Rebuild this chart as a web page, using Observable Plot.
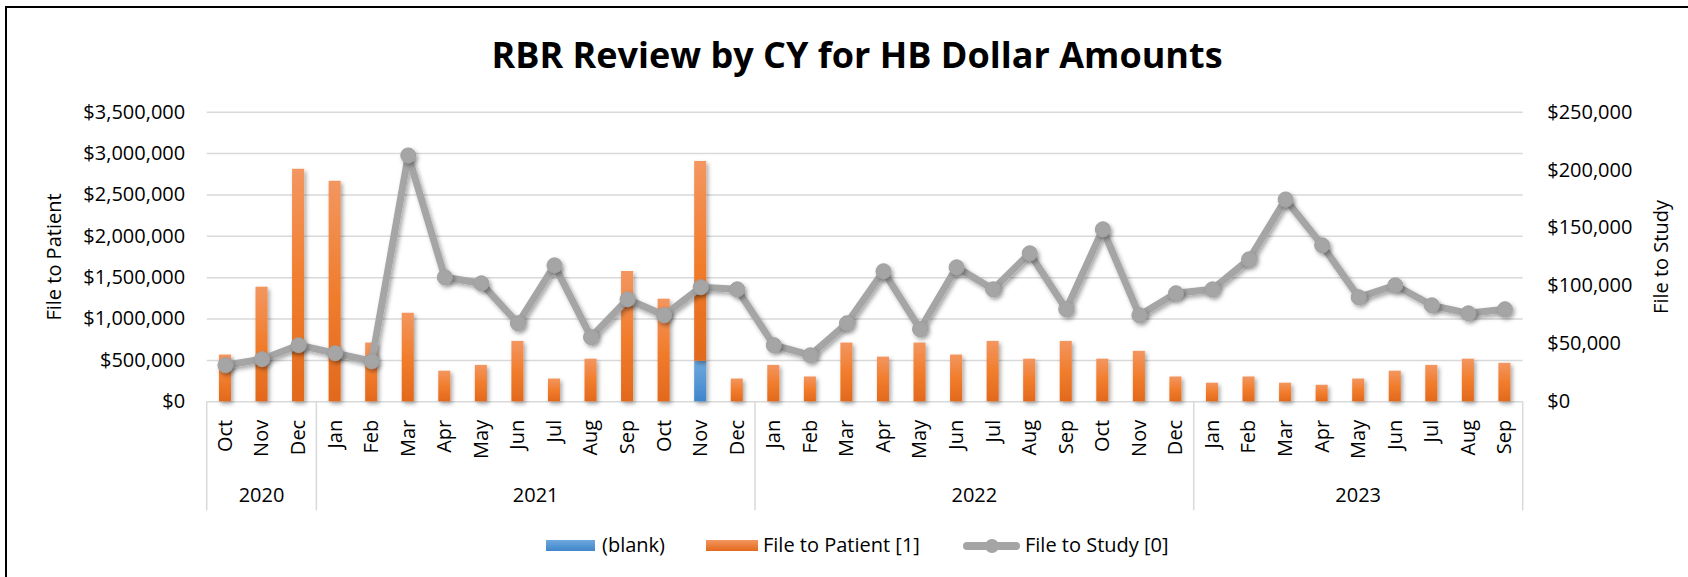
<!DOCTYPE html>
<html><head><meta charset="utf-8">
<script src="https://cdn.jsdelivr.net/npm/d3@7"></script>
<script src="https://cdn.jsdelivr.net/npm/@observablehq/plot@0.6"></script>
<style>
html,body{margin:0;padding:0;background:#fff;}
#wrap{position:relative;width:1688px;height:577px;overflow:hidden;background:#fff;font-family:"Open Sans",sans-serif;color:#000;}
#frame{position:absolute;left:5px;top:6px;width:3000px;height:3000px;border:2px solid #000;box-sizing:border-box;}
#title{position:absolute;left:0;width:1714px;top:37px;text-align:center;font-weight:700;font-size:36px;line-height:36px;white-space:nowrap;}
#chart{position:absolute;left:0;top:0;}
.sw{position:absolute;}
.lt{position:absolute;top:535px;font-size:20px;line-height:20px;white-space:nowrap;}
</style>
</head><body>
<div id="wrap">
  <div id="frame"></div>
  <div id="chart"></div>
  <div id="title"></div>
  <div id="legend"></div>
</div>
<script>
const chartTitle = "RBR Review by CY for HB Dollar Amounts";
const years = ["2020", "2021", "2022", "2023"];
const yearMonths = [
  ["Oct", "Nov", "Dec"],
  ["Jan", "Feb", "Mar", "Apr", "May", "Jun", "Jul", "Aug", "Sep", "Oct", "Nov", "Dec"],
  ["Jan", "Feb", "Mar", "Apr", "May", "Jun", "Jul", "Aug", "Sep", "Oct", "Nov", "Dec"],
  ["Jan", "Feb", "Mar", "Apr", "May", "Jun", "Jul", "Aug", "Sep"]
];
// (blank) series, left axis
const blank = [
  0, 0, 0,
  0, 0, 0, 0, 0, 0, 0, 0, 0, 0, 490000, 0,
  0, 0, 0, 0, 0, 0, 0, 0, 0, 0, 0, 0,
  0, 0, 0, 0, 0, 0, 0, 0, 0
];
// File to Patient [1], left axis
const fileToPatient = [
  565000, 1385000, 2810000,
  2665000, 710000, 1070000, 370000, 440000, 730000, 275000, 515000, 1575000, 1240000, 2415000, 275000,
  440000, 300000, 710000, 540000, 710000, 565000, 730000, 515000, 730000, 515000, 610000, 300000,
  225000, 300000, 225000, 200000, 275000, 370000, 440000, 515000, 465000
];
// File to Study [0], right axis
const fileToStudy = [
  31600, 36800, 48900,
  42000, 35000, 212700, 107500, 102300, 67800, 117800, 55800, 88500, 74700, 98900, 97100,
  48900, 40200, 67800, 112700, 62700, 116100, 97100, 128200, 79900, 148900, 74700, 93700,
  97100, 123000, 174700, 135100, 90200, 100600, 83300, 76400, 79900
];
const leftTicks = [0, 500000, 1000000, 1500000, 2000000, 2500000, 3000000, 3500000];
const rightTicks = [0, 50000, 100000, 150000, 200000, 250000];
const seriesNames = ["(blank)", "File to Patient [1]", "File to Study [0]"];
const axisTitles = ["File to Patient", "File to Study"];

const rows = [];
years.forEach((y, i) => yearMonths[i].forEach(m => rows.push({key: y + "-" + m, year: y, month: m})));
rows.forEach((d, i) => { d.blank = blank[i]; d.patient = fileToPatient[i]; d.study = fileToStudy[i]; });
const leftMax = leftTicks[leftTicks.length - 1];
const rightMax = rightTicks[rightTicks.length - 1];
const ratio = leftMax / rightMax;
const fmt = d3.format("$,");

const W = 1688, H = 577;
const plot = Plot.plot({
  width: W, height: H,
  marginTop: 111.7, marginBottom: 175.7, marginLeft: 206.7, marginRight: 165.3,
  style: {fontFamily: '"Open Sans", sans-serif', fontSize: "20px", color: "#000", background: "transparent", overflow: "visible"},
  x: {type: "band", domain: rows.map(d => d.key), paddingInner: 0.67, paddingOuter: 0.335, round: false},
  y: {domain: [0, leftMax]},
  marks: [
    Plot.gridY(leftTicks, {stroke: "#D9D9D9", strokeOpacity: 1, strokeWidth: 1.5}),
    Plot.axisY({anchor: "left", ticks: leftTicks, tickSize: 0, tickPadding: 22, tickFormat: fmt, label: null, fontSize: 20}),
    Plot.axisY({anchor: "right", ticks: rightTicks.map(v => v * ratio), tickSize: 0, tickPadding: 24, tickFormat: v => fmt(Math.round(v / ratio)), label: null, fontSize: 20}),
    Plot.axisX({anchor: "bottom", tickSize: 0, tickPadding: 18, tickRotate: -90, tickFormat: k => k.split("-")[1], label: null, fontSize: 20}),
    Plot.barY(rows.filter(d => d.blank > 0), {x: "key", y: "blank", fill: "url(#gBlue)"}),
    Plot.barY(rows, {x: "key", y1: "blank", y2: d => d.blank + d.patient, fill: "url(#gOrange)"}),
    Plot.line(rows, {x: "key", y: d => d.study * ratio, stroke: "#A5A5A5", strokeWidth: 7, strokeLinejoin: "round", strokeLinecap: "round"}),
    Plot.dot(rows, {x: "key", y: d => d.study * ratio, r: 7.5, fill: "#A5A5A5", stroke: "#A0A0A0", strokeWidth: 1}),
    Plot.text([axisTitles[0]], {frameAnchor: "left", dx: -153, rotate: -90, textAnchor: "middle", fontSize: 20}),
    Plot.text([axisTitles[1]], {frameAnchor: "right", dx: 138, rotate: -90, textAnchor: "middle", fontSize: 20})
  ]
});
document.getElementById("chart").appendChild(plot);

const svg = d3.select(plot);
const defs = svg.insert("defs", ":first-child");
const gO = defs.append("linearGradient").attr("id", "gOrange").attr("x1", 0).attr("y1", 0).attr("x2", 0).attr("y2", 1);
gO.append("stop").attr("offset", "0%").attr("stop-color", "#F39660");
gO.append("stop").attr("offset", "50%").attr("stop-color", "#F17D2D");
gO.append("stop").attr("offset", "100%").attr("stop-color", "#E2691C");
const gB = defs.append("linearGradient").attr("id", "gBlue").attr("x1", 0).attr("y1", 0).attr("x2", 0).attr("y2", 1);
gB.append("stop").attr("offset", "0%").attr("stop-color", "#6EA8DE");
gB.append("stop").attr("offset", "100%").attr("stop-color", "#3E86CB");
const f = defs.append("filter").attr("id", "shadow").attr("x", "-50%").attr("y", "-20%").attr("width", "200%").attr("height", "140%");
f.append("feDropShadow").attr("dx", 2).attr("dy", 2.5).attr("stdDeviation", 2).attr("flood-color", "#000").attr("flood-opacity", 0.35);
svg.selectAll('g[aria-label="bar"], g[aria-label="line"], g[aria-label="dot"]').attr("filter", "url(#shadow)");

// multi-level category axis: year separators and labels
const xs = plot.scale("x"), ys = plot.scale("y");
const step = xs.step, bw = xs.bandwidth, gap = (step - bw) / 2;
const y0 = ys.apply(0);
const g = svg.append("g").attr("aria-label", "year-axis");
const bounds = [];
years.forEach((y, i) => {
  const ks = yearMonths[i].map(m => y + "-" + m);
  const a = xs.apply(ks[0]) - gap;
  const b = xs.apply(ks[ks.length - 1]) + bw + gap;
  bounds.push(a);
  if (i === years.length - 1) bounds.push(b);
  g.append("text").attr("x", (a + b) / 2).attr("y", y0 + 101).attr("text-anchor", "middle")
    .attr("fill", "#000").attr("font-size", 20).text(y);
});
bounds.forEach(x => g.append("line").attr("x1", x).attr("x2", x).attr("y1", y0).attr("y2", y0 + 109)
  .attr("stroke", "#D9D9D9").attr("stroke-width", 1.5));

document.getElementById("title").textContent = chartTitle;

// legend
const lg = document.getElementById("legend");
function add(html) { lg.insertAdjacentHTML("beforeend", html); }
add('<div class="sw" style="left:546px;top:539.5px;width:49px;height:11px;background:linear-gradient(#6EA8DE,#3E86CB)"></div>');
add('<div class="lt" style="left:602px">' + seriesNames[0] + '</div>');
add('<div class="sw" style="left:706px;top:539.5px;width:52px;height:11px;background:linear-gradient(#F39660,#E2691C)"></div>');
add('<div class="lt" style="left:763px">' + seriesNames[1] + '</div>');
add('<div class="sw" style="left:963px;top:541.5px;width:57px;height:8px;border-radius:4px;background:#A5A5A5"></div>');
add('<div class="sw" style="left:985px;top:538.5px;width:14px;height:14px;border-radius:50%;background:#A5A5A5"></div>');
add('<div class="lt" style="left:1025px">' + seriesNames[2] + '</div>');
</script>
</body></html>
